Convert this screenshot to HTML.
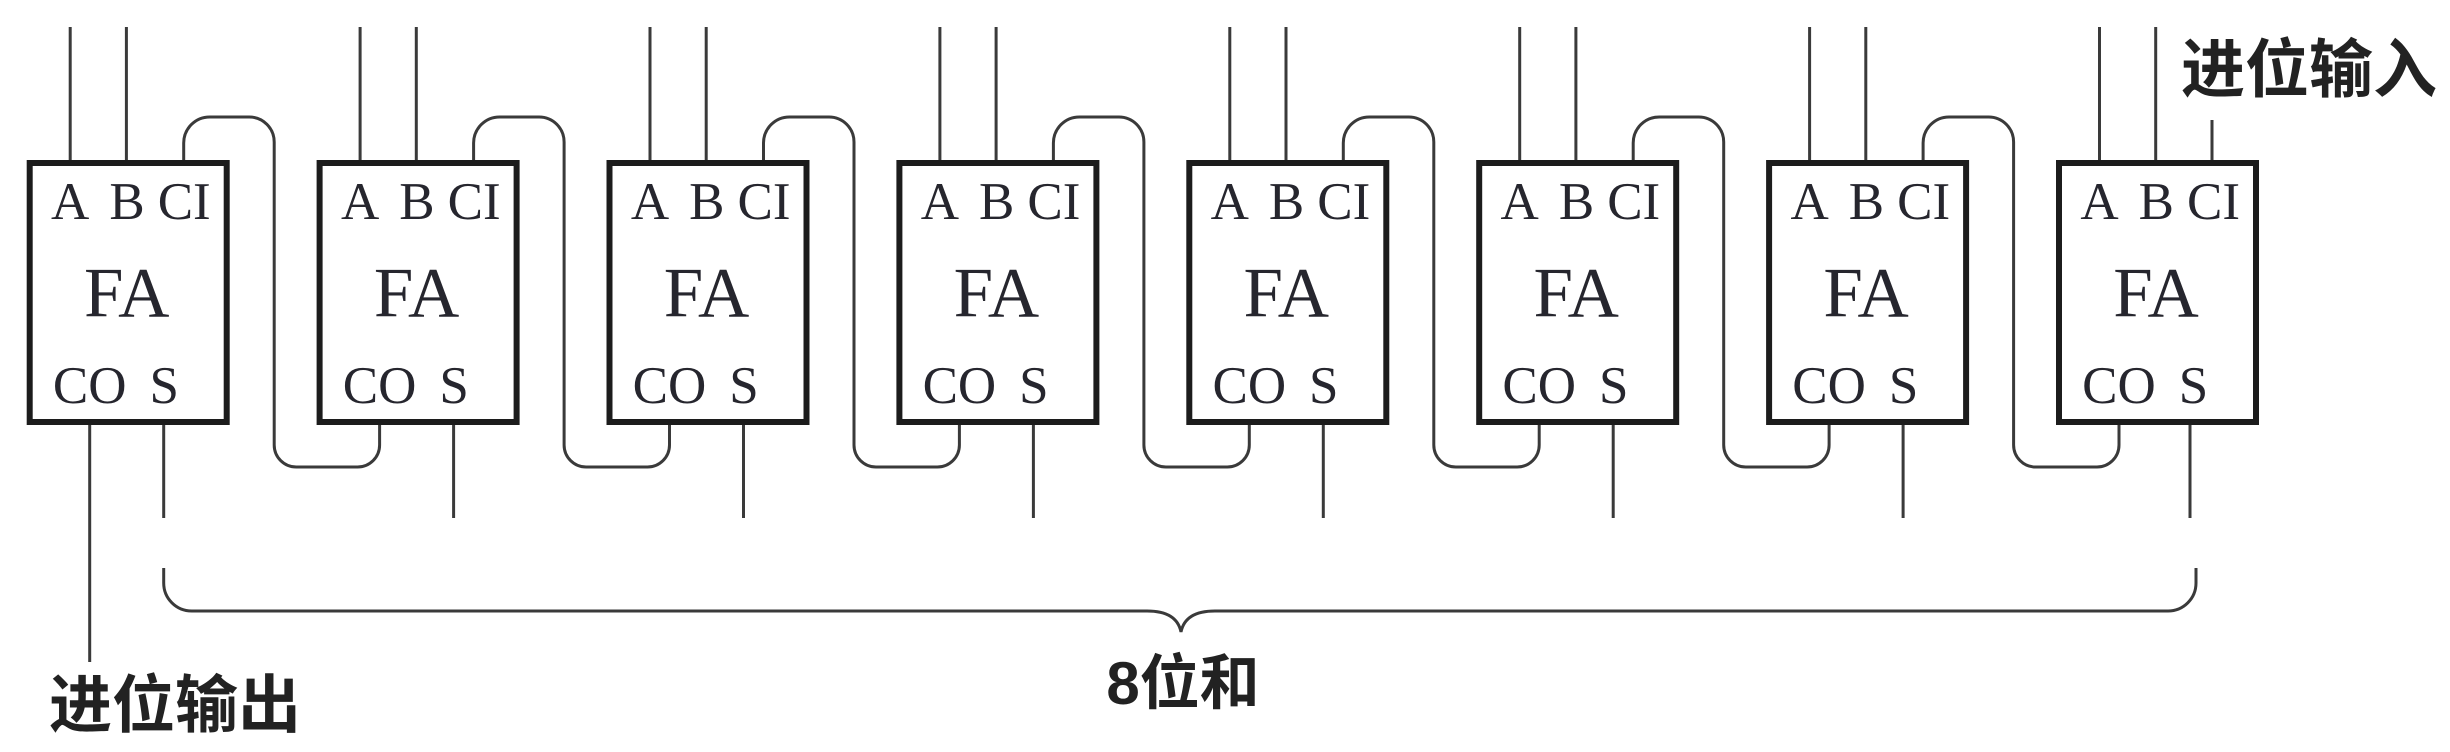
<!DOCTYPE html>
<html>
<head>
<meta charset="utf-8">
<style>
html,body{margin:0;padding:0;background:#fff;}
svg{display:block;}
.ln{stroke:#3a3a3a;stroke-width:3;fill:none;}
.bx{stroke:#1c1c1c;stroke-width:6;fill:#fff;}
.lb{font-family:"Liberation Serif",serif;font-size:53px;fill:#26262e;text-anchor:middle;}
.fa{font-family:"Liberation Serif",serif;font-size:71px;fill:#26262e;text-anchor:middle;}
.cj{font-family:"Liberation Sans","Noto Sans CJK SC",sans-serif;font-weight:bold;fill:#222;}
</style>
</head>
<body>
<svg width="2450" height="752" viewBox="0 0 2450 752" xmlns="http://www.w3.org/2000/svg">
<rect x="0" y="0" width="2450" height="752" fill="#fff"/>

<!-- carry loops (box i+1 CO -> box i CI) -->
<g class="ln">
<path transform="translate(26.7,0)" d="M157 163 V143 A26 26 0 0 1 183 117 H222.5 A25 25 0 0 1 247.5 142 V445 A22 22 0 0 0 269.5 467 H330.9 A22 22 0 0 0 352.9 445 V425"/>
<path transform="translate(316.6,0)" d="M157 163 V143 A26 26 0 0 1 183 117 H222.5 A25 25 0 0 1 247.5 142 V445 A22 22 0 0 0 269.5 467 H330.9 A22 22 0 0 0 352.9 445 V425"/>
<path transform="translate(606.5,0)" d="M157 163 V143 A26 26 0 0 1 183 117 H222.5 A25 25 0 0 1 247.5 142 V445 A22 22 0 0 0 269.5 467 H330.9 A22 22 0 0 0 352.9 445 V425"/>
<path transform="translate(896.4,0)" d="M157 163 V143 A26 26 0 0 1 183 117 H222.5 A25 25 0 0 1 247.5 142 V445 A22 22 0 0 0 269.5 467 H330.9 A22 22 0 0 0 352.9 445 V425"/>
<path transform="translate(1186.3,0)" d="M157 163 V143 A26 26 0 0 1 183 117 H222.5 A25 25 0 0 1 247.5 142 V445 A22 22 0 0 0 269.5 467 H330.9 A22 22 0 0 0 352.9 445 V425"/>
<path transform="translate(1476.2,0)" d="M157 163 V143 A26 26 0 0 1 183 117 H222.5 A25 25 0 0 1 247.5 142 V445 A22 22 0 0 0 269.5 467 H330.9 A22 22 0 0 0 352.9 445 V425"/>
<path transform="translate(1766.1,0)" d="M157 163 V143 A26 26 0 0 1 183 117 H222.5 A25 25 0 0 1 247.5 142 V445 A22 22 0 0 0 269.5 467 H330.9 A22 22 0 0 0 352.9 445 V425"/>

<!-- A/B input lines and S outputs -->
<g>
<line x1="70.2" y1="27" x2="70.2" y2="162"/><line x1="126.4" y1="27" x2="126.4" y2="162"/><line x1="163.7" y1="424" x2="163.7" y2="518"/>
<line x1="360.1" y1="27" x2="360.1" y2="162"/><line x1="416.3" y1="27" x2="416.3" y2="162"/><line x1="453.6" y1="424" x2="453.6" y2="518"/>
<line x1="650" y1="27" x2="650" y2="162"/><line x1="706.2" y1="27" x2="706.2" y2="162"/><line x1="743.5" y1="424" x2="743.5" y2="518"/>
<line x1="939.9" y1="27" x2="939.9" y2="162"/><line x1="996.1" y1="27" x2="996.1" y2="162"/><line x1="1033.4" y1="424" x2="1033.4" y2="518"/>
<line x1="1229.8" y1="27" x2="1229.8" y2="162"/><line x1="1286" y1="27" x2="1286" y2="162"/><line x1="1323.3" y1="424" x2="1323.3" y2="518"/>
<line x1="1519.7" y1="27" x2="1519.7" y2="162"/><line x1="1575.9" y1="27" x2="1575.9" y2="162"/><line x1="1613.2" y1="424" x2="1613.2" y2="518"/>
<line x1="1809.6" y1="27" x2="1809.6" y2="162"/><line x1="1865.8" y1="27" x2="1865.8" y2="162"/><line x1="1903.1" y1="424" x2="1903.1" y2="518"/>
<line x1="2099.5" y1="27" x2="2099.5" y2="162"/><line x1="2155.7" y1="27" x2="2155.7" y2="162"/><line x1="2190" y1="424" x2="2190" y2="518"/>
</g>
<!-- carry out of box 1 -->
<line x1="89.7" y1="424" x2="89.7" y2="662"/>
<!-- carry in of box 8 -->
<line x1="2212" y1="120" x2="2212" y2="162"/>

<!-- brace -->
<path d="M163.7 568 V583 A28 28 0 0 0 191.7 611 H1147 C1165 611 1178 617 1181 632 C1184 617 1197 611 1215 611 H2168 A28 28 0 0 0 2196 583 V568"/>
</g>

<!-- boxes -->
<g class="bx">
<rect x="29.7" y="163" width="197" height="259"/>
<rect x="319.6" y="163" width="197" height="259"/>
<rect x="609.5" y="163" width="197" height="259"/>
<rect x="899.4" y="163" width="197" height="259"/>
<rect x="1189.3" y="163" width="197" height="259"/>
<rect x="1479.2" y="163" width="197" height="259"/>
<rect x="1769.1" y="163" width="197" height="259"/>
<rect x="2059" y="163" width="197" height="259"/>
</g>

<!-- box labels -->
<g class="lb">
<text x="70.2" y="219">A</text><text x="127" y="219">B</text><text x="184.2" y="219">CI</text><text x="89.7" y="403">CO</text><text x="164.2" y="403">S</text>
<text x="360.1" y="219">A</text><text x="416.9" y="219">B</text><text x="474.1" y="219">CI</text><text x="379.6" y="403">CO</text><text x="454.1" y="403">S</text>
<text x="650" y="219">A</text><text x="706.8" y="219">B</text><text x="764" y="219">CI</text><text x="669.5" y="403">CO</text><text x="744" y="403">S</text>
<text x="939.9" y="219">A</text><text x="996.7" y="219">B</text><text x="1053.9" y="219">CI</text><text x="959.4" y="403">CO</text><text x="1033.9" y="403">S</text>
<text x="1229.8" y="219">A</text><text x="1286.6" y="219">B</text><text x="1343.8" y="219">CI</text><text x="1249.3" y="403">CO</text><text x="1323.8" y="403">S</text>
<text x="1519.7" y="219">A</text><text x="1576.5" y="219">B</text><text x="1633.7" y="219">CI</text><text x="1539.2" y="403">CO</text><text x="1613.7" y="403">S</text>
<text x="1809.6" y="219">A</text><text x="1866.4" y="219">B</text><text x="1923.6" y="219">CI</text><text x="1829.1" y="403">CO</text><text x="1903.6" y="403">S</text>
<text x="2099.5" y="219">A</text><text x="2156.3" y="219">B</text><text x="2213.5" y="219">CI</text><text x="2119" y="403">CO</text><text x="2193.5" y="403">S</text>
</g>
<g class="fa">
<text x="126.7" y="316.7">FA</text>
<text x="416.6" y="316.7">FA</text>
<text x="706.5" y="316.7">FA</text>
<text x="996.4" y="316.7">FA</text>
<text x="1286.3" y="316.7">FA</text>
<text x="1576.2" y="316.7">FA</text>
<text x="1866.1" y="316.7">FA</text>
<text x="2156" y="316.7">FA</text>
</g>

<!-- Chinese labels -->
<text class="cj" x="49" y="727" font-size="63">进位输出</text>
<text class="cj" x="2181" y="92" font-size="64">进位输入</text>
<text class="cj" x="1183" y="704" font-size="60" text-anchor="middle">8位和</text>
</svg>
</body>
</html>
